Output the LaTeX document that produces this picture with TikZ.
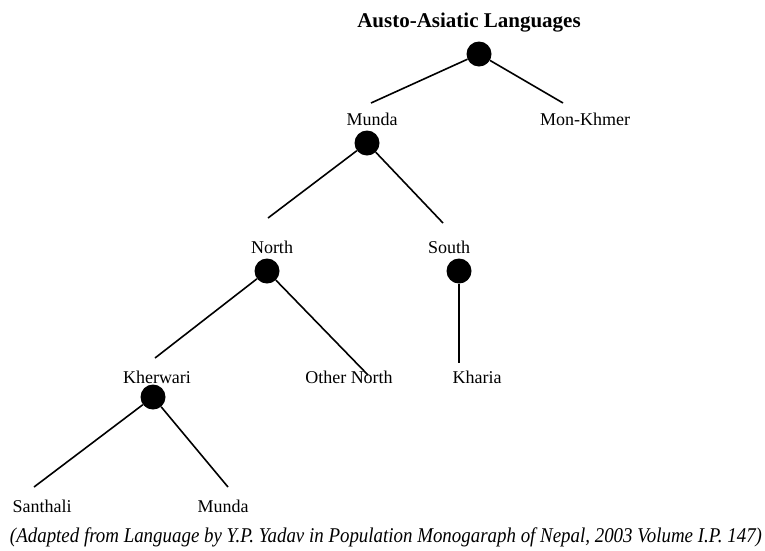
\documentclass[tikz,border=0pt]{standalone}
\usepackage{fontspec}
\setmainfont{Liberation Serif}
\usepackage{tikz}
\tikzstyle{branch} = [circle, fill=black, minimum size=25pt, inner sep=0pt]
\tikzstyle{lang} = [anchor=base, inner sep=0pt, font=\fontsize{18}{20}\selectfont]
\tikzstyle{edge} = [line width=1.6pt]

\begin{document}
\begin{tikzpicture}[x=1pt, y=-1pt]
  \useasboundingbox (0, 0) rectangle (765, 550);

  \node[lang, font=\bfseries\fontsize{21}{24}\selectfont] at (469, 27) (title) {Austo-Asiatic Languages};

  % branching points
  \node[branch] at (479, 54) (root) {};
  \node[branch] at (367, 143) (munda) {};
  \node[branch] at (267, 271) (north) {};
  \node[branch] at (459, 271) (south) {};
  \node[branch] at (153, 397) (kherwari) {};

  % language names
  \node[lang] at (372, 125) (mundaname) {Munda};
  \node[lang] at (585, 125) (monkhmer) {Mon-Khmer};
  \node[lang] at (272, 253) (northname) {North};
  \node[lang] at (449, 253) (southname) {South};
  \node[lang] at (157, 383) (kherwariname) {Kherwari};
  \node[lang] at (349, 383) (othernorth) {Other North};
  \node[lang] at (477, 383) (kharia) {Kharia};
  \node[lang] at (42, 512) (santhali) {Santhali};
  \node[lang] at (223, 512) (mundali) {Munda};

  % free ends of the branches
  \coordinate (root-l) at (371, 103);
  \coordinate (root-r) at (563, 103);
  \coordinate (munda-l) at (268, 218);
  \coordinate (munda-r) at (443, 223);
  \coordinate (north-l) at (155, 358);
  \coordinate (north-r) at (368, 375);
  \coordinate (south-d) at (459, 363);
  \coordinate (kherwari-l) at (34, 487);
  \coordinate (kherwari-r) at (228, 487);

  \draw[edge] (root) -- (root-l);
  \draw[edge] (root) -- (root-r);
  \draw[edge] (munda) -- (munda-l);
  \draw[edge] (munda) -- (munda-r);
  \draw[edge] (north) -- (north-l);
  \draw[edge] (north) -- (north-r);
  \draw[edge] (south) -- (south-d);
  \draw[edge] (kherwari) -- (kherwari-l);
  \draw[edge] (kherwari) -- (kherwari-r);

  \node[anchor=base, inner sep=0pt] at (386, 542) (source) {\resizebox{752pt}{\height}{\itshape\fontsize{21}{24}\selectfont (Adapted from Language by Y.P. Yadav in Population Monogaraph of Nepal, 2003 Volume I.P. 147)}};

\end{tikzpicture}
\end{document}
